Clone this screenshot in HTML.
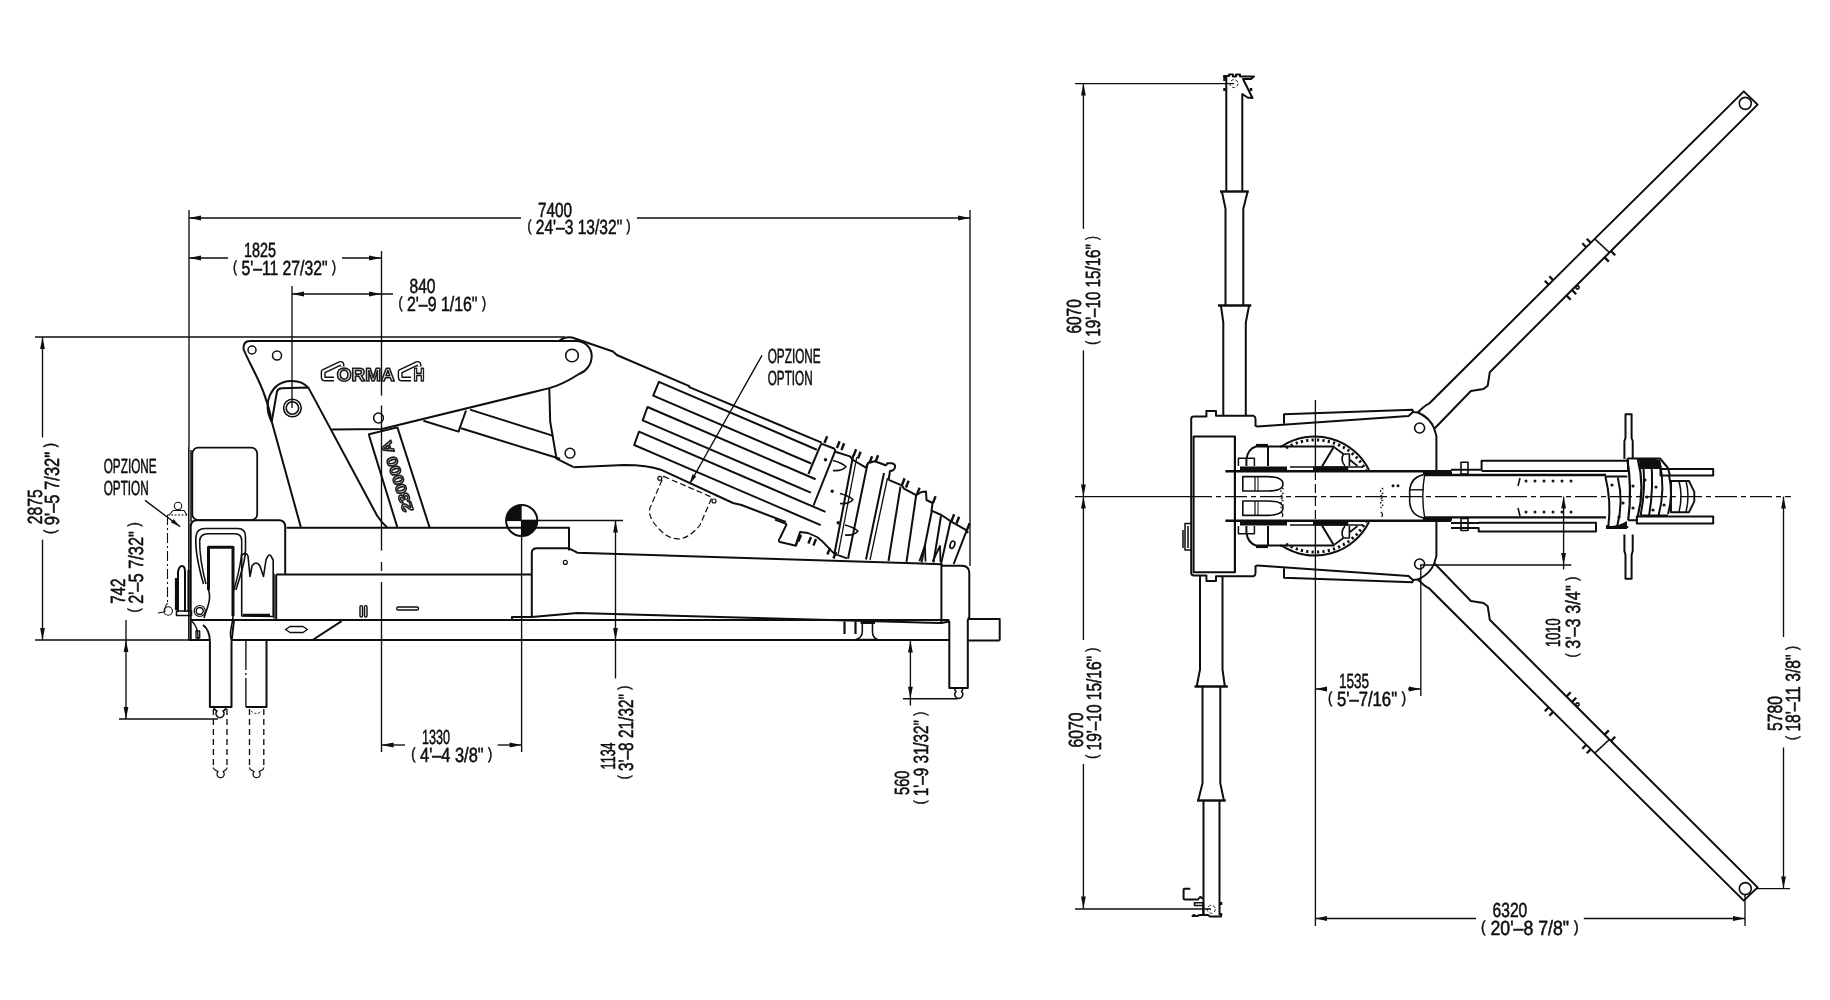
<!DOCTYPE html>
<html><head><meta charset="utf-8"><style>
html,body{margin:0;padding:0;background:#fff;}
svg{display:block;}
text{text-rendering:geometricPrecision;}
text{font-family:"Liberation Sans",sans-serif;fill:#0e0e0e;stroke:#0e0e0e;stroke-width:0.55;}
</style></head><body>
<svg width="1830" height="1000" viewBox="0 0 1830 1000">
<rect width="1830" height="1000" fill="#fff"/>
<g style="filter:grayscale(1)" stroke="#0e0e0e" fill="none" stroke-linecap="butt" stroke-linejoin="round">
<line x1="189" y1="218" x2="521" y2="218" stroke-width="1.35" />
<line x1="637" y1="218" x2="970" y2="218" stroke-width="1.35" />
<path d="M189,218 L201,215.6 L201,220.4 Z" fill="#0e0e0e" stroke="none"/>
<path d="M970,218 L958,220.4 L958,215.6 Z" fill="#0e0e0e" stroke="none"/>
<line x1="189" y1="210" x2="189" y2="447" stroke-width="1.35" />
<line x1="970" y1="210" x2="970" y2="566" stroke-width="1.35" />
<text x="538" y="216.7" textLength="34" lengthAdjust="spacingAndGlyphs" font-size="20.5" >7400</text>
<text x="527.5" y="234" textLength="103" lengthAdjust="spacingAndGlyphs" font-size="20.5" ><tspan font-size="15.8" dy="-3.3">(</tspan><tspan dy="3.3"> 24'–3 13/32&quot; </tspan><tspan font-size="15.8" dy="-3.3">)</tspan></text>
<line x1="189" y1="258" x2="228" y2="258" stroke-width="1.35" />
<line x1="342" y1="258" x2="381" y2="258" stroke-width="1.35" />
<path d="M189,258 L201,255.6 L201,260.4 Z" fill="#0e0e0e" stroke="none"/>
<path d="M381,258 L369,260.4 L369,255.6 Z" fill="#0e0e0e" stroke="none"/>
<text x="244" y="257" textLength="32" lengthAdjust="spacingAndGlyphs" font-size="20.5" >1825</text>
<text x="233" y="275" textLength="103" lengthAdjust="spacingAndGlyphs" font-size="20.5" ><tspan font-size="15.8" dy="-3.3">(</tspan><tspan dy="3.3"> 5'–11 27/32&quot; </tspan><tspan font-size="15.8" dy="-3.3">)</tspan></text>
<line x1="292" y1="294" x2="393" y2="294" stroke-width="1.35" />
<path d="M292,294 L304,291.6 L304,296.4 Z" fill="#0e0e0e" stroke="none"/>
<path d="M381,294 L369,296.4 L369,291.6 Z" fill="#0e0e0e" stroke="none"/>
<line x1="292" y1="286" x2="292" y2="408" stroke-width="1.35" />
<text x="409.5" y="292.5" textLength="26" lengthAdjust="spacingAndGlyphs" font-size="20.5" >840</text>
<text x="398.5" y="311" textLength="87.5" lengthAdjust="spacingAndGlyphs" font-size="20.5" ><tspan font-size="15.8" dy="-3.3">(</tspan><tspan dy="3.3"> 2'–9 1/16&quot; </tspan><tspan font-size="15.8" dy="-3.3">)</tspan></text>
<line x1="381.5" y1="251" x2="381.5" y2="395.6" stroke-width="1.35" />
<line x1="381.5" y1="405.5" x2="381.5" y2="550.6" stroke-width="1.35" />
<line x1="381.5" y1="562" x2="381.5" y2="571" stroke-width="1.35" />
<line x1="381.5" y1="582" x2="381.5" y2="752" stroke-width="1.35" />
<line x1="35" y1="337" x2="565" y2="337" stroke-width="1.35" />
<line x1="35" y1="640" x2="190" y2="640" stroke-width="1.35" />
<line x1="42.5" y1="337" x2="42.5" y2="437.5" stroke-width="1.35" />
<line x1="42.5" y1="539.7" x2="42.5" y2="640" stroke-width="1.35" />
<path d="M42.5,337 L44.9,349 L40.1,349 Z" fill="#0e0e0e" stroke="none"/>
<path d="M42.5,640 L40.1,628 L44.9,628 Z" fill="#0e0e0e" stroke="none"/>
<text x="41.7" y="524.3" textLength="35" lengthAdjust="spacingAndGlyphs" font-size="20.5" transform="rotate(-90 41.7 524.3)" >2875</text>
<text x="58.5" y="534" textLength="91" lengthAdjust="spacingAndGlyphs" font-size="20.5" transform="rotate(-90 58.5 534)" ><tspan font-size="15.8" dy="-3.3">(</tspan><tspan dy="3.3"> 9'–5 7/32&quot; </tspan><tspan font-size="15.8" dy="-3.3">)</tspan></text>
<line x1="126" y1="620" x2="126" y2="719" stroke-width="1.35" />
<path d="M126,640 L128.4,652 L123.6,652 Z" fill="#0e0e0e" stroke="none"/>
<path d="M126,719 L123.6,707 L128.4,707 Z" fill="#0e0e0e" stroke="none"/>
<line x1="119" y1="719" x2="218" y2="719" stroke-width="1.35" />
<text x="125.2" y="603.8" textLength="25.3" lengthAdjust="spacingAndGlyphs" font-size="20.5" transform="rotate(-90 125.2 603.8)" >742</text>
<text x="142.8" y="612.6" textLength="90.2" lengthAdjust="spacingAndGlyphs" font-size="20.5" transform="rotate(-90 142.8 612.6)" ><tspan font-size="15.8" dy="-3.3">(</tspan><tspan dy="3.3"> 2'–5 7/32&quot; </tspan><tspan font-size="15.8" dy="-3.3">)</tspan></text>
<line x1="381.6" y1="745" x2="405" y2="745" stroke-width="1.35" />
<line x1="497.7" y1="745" x2="521.6" y2="745" stroke-width="1.35" />
<path d="M381.6,745 L393.6,742.6 L393.6,747.4 Z" fill="#0e0e0e" stroke="none"/>
<path d="M521.6,745 L509.6,747.4 L509.6,742.6 Z" fill="#0e0e0e" stroke="none"/>
<line x1="521.6" y1="520" x2="521.6" y2="752" stroke-width="1.35" />
<text x="422" y="744.2" textLength="28" lengthAdjust="spacingAndGlyphs" font-size="20.5" >1330</text>
<text x="411.3" y="762.2" textLength="81" lengthAdjust="spacingAndGlyphs" font-size="20.5" ><tspan font-size="15.8" dy="-3.3">(</tspan><tspan dy="3.3"> 4'–4 3/8&quot; </tspan><tspan font-size="15.8" dy="-3.3">)</tspan></text>
<line x1="615.5" y1="520.5" x2="615.5" y2="678.5" stroke-width="1.35" />
<path d="M615.5,520.5 L617.9,532.5 L613.1,532.5 Z" fill="#0e0e0e" stroke="none"/>
<path d="M615.5,640 L613.1,628 L617.9,628 Z" fill="#0e0e0e" stroke="none"/>
<line x1="521.7" y1="520.5" x2="623" y2="520.5" stroke-width="1.35" />
<text x="614.6" y="769.4" textLength="27" lengthAdjust="spacingAndGlyphs" font-size="20.5" transform="rotate(-90 614.6 769.4)" >1134</text>
<text x="632.6" y="779.3" textLength="93.6" lengthAdjust="spacingAndGlyphs" font-size="20.5" transform="rotate(-90 632.6 779.3)" ><tspan font-size="15.8" dy="-3.3">(</tspan><tspan dy="3.3"> 3'–8 21/32&quot; </tspan><tspan font-size="15.8" dy="-3.3">)</tspan></text>
<line x1="910.4" y1="640.5" x2="910.4" y2="705.6" stroke-width="1.35" />
<path d="M910.4,640.5 L912.8,652.5 L908,652.5 Z" fill="#0e0e0e" stroke="none"/>
<path d="M910.4,698.7 L908,686.7 L912.8,686.7 Z" fill="#0e0e0e" stroke="none"/>
<line x1="903" y1="698.7" x2="957.7" y2="698.7" stroke-width="1.35" />
<text x="909.4" y="794.9" textLength="24.2" lengthAdjust="spacingAndGlyphs" font-size="20.5" transform="rotate(-90 909.4 794.9)" >560</text>
<text x="928.3" y="804.3" textLength="92.4" lengthAdjust="spacingAndGlyphs" font-size="20.5" transform="rotate(-90 928.3 804.3)" ><tspan font-size="15.8" dy="-3.3">(</tspan><tspan dy="3.3"> 1'–9 31/32&quot; </tspan><tspan font-size="15.8" dy="-3.3">)</tspan></text>
<text x="103.7" y="473" textLength="53" lengthAdjust="spacingAndGlyphs" font-size="20.5" >OPZIONE</text>
<text x="103.7" y="494.5" textLength="45" lengthAdjust="spacingAndGlyphs" font-size="20.5" >OPTION</text>
<line x1="145" y1="500.4" x2="180.2" y2="526.8" stroke-width="1.35" />
<path d="M180.2,526.8 L170.88,522.56 L173.52,519.04 Z" fill="#0e0e0e" stroke="none"/>
<text x="767.7" y="363.4" textLength="53" lengthAdjust="spacingAndGlyphs" font-size="20.5" >OPZIONE</text>
<text x="767.7" y="385.2" textLength="45" lengthAdjust="spacingAndGlyphs" font-size="20.5" >OPTION</text>
<line x1="762" y1="355.3" x2="689.5" y2="484.1" stroke-width="1.35" />
<path d="M689.5,484.1 L692.49,474.31 L696.32,476.46 Z" fill="#0e0e0e" stroke="none"/>
<path d="M250,341 L575,341 C584,340.5 591.7,347 591.7,356.1 C591.7,365 586,371.5 579,374 Q562,385 548.4,388.4 L382,429 L331.7,429.5" stroke-width="2.0" fill="none" />
<path d="M250,341 Q243,341 243.5,349 C250,366 266,388 271.7,421.5" stroke-width="2.0" fill="none" />
<circle cx="252" cy="350" r="4" stroke-width="1.5" fill="none" />
<circle cx="277" cy="355.5" r="4.5" stroke-width="1.5" fill="none" />
<circle cx="572" cy="355.5" r="6.3" stroke-width="1.6" fill="none" />
<circle cx="378.5" cy="418" r="4.9" stroke-width="1.5" fill="none" />
<circle cx="570" cy="453.2" r="4.9" stroke-width="1.5" fill="none" />
<path d="M271.7,421.5 C262,405 270,381 292,381 C300,381 305,384 308,387.6" stroke-width="2.0" fill="none" />
<circle cx="292.4" cy="408" r="8.8" stroke-width="1.6" fill="none" />
<circle cx="292.4" cy="408" r="6.2" stroke-width="1.6" fill="none" />
<path d="M300.8,527 L271.7,421.5 L277,391.5 Q278,388.5 282,388.3 L308.4,387.6 L377,515.5 Q381,522 387.2,527.5" stroke-width="2.0" fill="none" />
<path d="M397.4,527.5 L369.5,437 L369,434.2 L397.4,427.4 L429.6,527.5" stroke-width="2.0" fill="none" />
<text x="0" y="0" font-size="15" font-weight="bold" textLength="74" lengthAdjust="spacingAndGlyphs" transform="translate(413.5,510) rotate(-108)" style="fill:#fff;stroke:#1c1c1c;stroke-width:1.5">230000 A</text>
<path d="M423.4,420.8 L458.5,431.6 L466,410.5" stroke-width="2.0" fill="none" />
<path d="M470,409.6 L553.2,435.9" stroke-width="2.0" fill="none" />
<path d="M461,428.3 L560,458.8" stroke-width="2.0" fill="none" />
<path d="M549.3,388.4 L550.2,421.7 L556.5,458.6 L573.6,467.2" stroke-width="2.0" fill="none" />
<path d="M334,379 L325,379 Q323.2,379 323.2,377 L323.2,371.5 L340,363.6 Q342,362.8 342,365 L342,366.5" stroke-width="5.0" fill="none" />
<path d="M334,379 L325,379 Q323.2,379 323.2,377 L323.2,371.5 L340,363.6 Q342,362.8 342,365 L342,366.5" stroke-width="2.2" fill="none" stroke="#fff"/>
<path d="M411,379 L402,379 Q400.2,379 400.2,377 L400.2,371.5 L417,363.6 Q419,362.8 419,365 L419,366.5" stroke-width="5.0" fill="none" />
<path d="M411,379 L402,379 Q400.2,379 400.2,377 L400.2,371.5 L417,363.6 Q419,362.8 419,365 L419,366.5" stroke-width="2.2" fill="none" stroke="#fff"/>
<text x="336.8" y="381.2" font-size="18.5" font-weight="bold" textLength="58" lengthAdjust="spacingAndGlyphs" style="fill:#fff;stroke:#1c1c1c;stroke-width:1.6">ORMA</text>
<text x="413.6" y="381.2" font-size="18.5" font-weight="bold" textLength="11" lengthAdjust="spacingAndGlyphs" style="fill:#fff;stroke:#1c1c1c;stroke-width:1.6">H</text>
<path d="M559,341 Q565,336 572,337.5 L613,351.5 L616.8,355 L689.3,386.1 L689.3,387.1 L821.7,442.7" stroke-width="2.0" fill="none" />
<path d="M573.6,467.2 L624,464.9 Q648,465 660.8,469.7 L733,503 L741.5,505 L786,522" stroke-width="2.0" fill="none" />
<path d="M816.91,449.74 L658.9,381.8 L653.2,395.6 L811.21,463.54" stroke-width="2.0" fill="none" />
<path d="M815.62,479.29 L647.5,407 L642.7,420.3 L810.82,492.59" stroke-width="2.0" fill="none" />
<path d="M825.49,511.89 L639,431.7 L634.2,445 L820.69,525.19" stroke-width="2.0" fill="none" />
<path d="M663.6,476.4 L712,497.3 L700,525 Q680,550 660,530 Q645,515 651.3,505 Z" stroke-width="1.2" fill="none" stroke-dasharray="6 3"/>
<circle cx="659.8" cy="478.3" r="2" stroke-width="1.2" fill="none" />
<circle cx="714" cy="501" r="2" stroke-width="1.2" fill="none" />
<path d="M821.2,443.6 L834,448.5 L836,452 L850,456.4 L853,460 L866,467.6 L868,463 L874.8,461.2 L886.4,465.5" stroke-width="2.0" fill="none" />
<path d="M886.4,465.5 L887,463.3 L892,463.3 Q895.5,464 895,467.5 Q894,471 890,471 L888.6,479.8" stroke-width="2.0" fill="none" />
<path d="M888.6,479.8 L901.8,485.3 L904,488.6 L916.1,495.2 L921.6,492 L926,491.5 L926.5,500 L932.6,503 L931.5,510.6 L941.4,515 L951.3,521.6 L966.7,530.4 L968,533" stroke-width="2.0" fill="none" />
<line x1="824.5" y1="443" x2="827.1" y2="436.2" stroke-width="2.4" />
<line x1="837" y1="448" x2="839.6" y2="441.2" stroke-width="2.4" />
<line x1="841.5" y1="450" x2="844.1" y2="443.2" stroke-width="2.4" />
<line x1="853.5" y1="456" x2="856.1" y2="449.2" stroke-width="2.4" />
<line x1="858" y1="458.5" x2="860.6" y2="451.7" stroke-width="2.4" />
<line x1="869.5" y1="463" x2="872.1" y2="456.2" stroke-width="2.4" />
<line x1="875.5" y1="462" x2="878.1" y2="455.2" stroke-width="2.4" />
<line x1="902" y1="485" x2="904.6" y2="478.2" stroke-width="2.4" />
<line x1="906" y1="487.5" x2="908.6" y2="480.7" stroke-width="2.4" />
<line x1="917" y1="494.5" x2="919.6" y2="487.7" stroke-width="2.4" />
<line x1="933" y1="503" x2="935.6" y2="496.2" stroke-width="2.4" />
<line x1="951.5" y1="521" x2="954.1" y2="514.2" stroke-width="2.4" />
<line x1="956.5" y1="523.5" x2="959.1" y2="516.7" stroke-width="2.4" />
<line x1="967" y1="530" x2="969.6" y2="523.2" stroke-width="2.4" />
<path d="M821.2,443.6 L808.4,474" stroke-width="2.0" fill="none" />
<path d="M835.2,451 L813.5,505.5" stroke-width="2.0" fill="none" />
<path d="M853.2,455.2 L834.5,553.5" stroke-width="2.0" fill="none" />
<path d="M856.8,457 L838.2,553.8" stroke-width="1.3" fill="none" />
<path d="M867.5,464 L848,558.7" stroke-width="2.0" fill="none" />
<path d="M884,473 L866,559.5" stroke-width="2.0" fill="none" />
<path d="M887.5,478 L870,560" stroke-width="1.3" fill="none" />
<path d="M900.5,486.7 L888.5,561" stroke-width="2.0" fill="none" />
<path d="M916.2,495 L906.5,561.8" stroke-width="2.0" fill="none" />
<path d="M932,510 L921.5,562.5" stroke-width="2.0" fill="none" />
<path d="M941,516 L933.5,562.5" stroke-width="2.0" fill="none" />
<path d="M950.5,521.5 L941,564" stroke-width="2.0" fill="none" />
<path d="M966.7,530.4 L953.7,564" stroke-width="2.0" fill="none" />
<path d="M919.4,561.2 L924,548 L925,546 L925.5,561.5" stroke-width="1.8" fill="none" />
<path d="M932.6,561.5 L938,550 L940,546 L940.5,562" stroke-width="1.8" fill="none" />
<ellipse cx="952.4" cy="544.7" rx="2.2" ry="3.8" transform="rotate(20 952.4 544.7)" stroke-width="1.6" fill="none"/>
<path d="M833,460.5 Q841,462.5 846,466.5 Q842,471.5 833,470.5" stroke-width="1.6" fill="none" />
<path d="M840,493.5 Q848,495.5 853,499.5 Q849,504.5 840,503.5" stroke-width="1.6" fill="none" />
<path d="M845,525 Q853,527 858,531 Q854,536 845,535" stroke-width="1.6" fill="none" />
<circle cx="825.5" cy="459.7" r="0.9" stroke-width="1.6" fill="none" />
<circle cx="832.2" cy="491.3" r="0.9" stroke-width="1.6" fill="none" />
<circle cx="838.2" cy="522.7" r="0.9" stroke-width="1.6" fill="none" />
<path d="M786.7,524.1 L780,538 Q777.7,541 780,542 L796,545.7 L797.6,541 L800,534" stroke-width="2.0" fill="none" />
<path d="M775,519.6 L786.7,524.1" stroke-width="2.0" fill="none" />
<path d="M795.7,544.8 L800,532 L808,533 L817,537 L822,541 L834.4,553.8 L847,558.3" stroke-width="1.8" fill="none" />
<line x1="801" y1="535" x2="798.4" y2="541.5" stroke-width="2.4" />
<line x1="811" y1="537" x2="808.4" y2="543.5" stroke-width="2.4" />
<line x1="816" y1="539" x2="813.4" y2="545.5" stroke-width="2.4" />
<line x1="830" y1="548" x2="827.4" y2="554.5" stroke-width="2.4" />
<line x1="836" y1="552" x2="833.4" y2="558.5" stroke-width="2.4" />
<rect x="192.3" y="447.6" width="64.9" height="72.6" rx="6" stroke-width="1.8" fill="none" />
<line x1="191" y1="450" x2="191" y2="522" stroke-width="1.5" />
<path d="M190.7,640 L190.7,527 Q190.7,520.2 197,520.2 L279,520.2 Q285.2,520.2 285.2,527 L285.2,574" stroke-width="2.0" fill="none" />
<line x1="188.8" y1="447" x2="188.8" y2="640" stroke-width="1.5" />
<path d="M203.5,584 C198,565 195,548 196,536 Q197,528.5 205,528.5 L238,528.5 Q245.5,528.5 245.5,537 L245.5,550 C245,565 240,575 236,590" stroke-width="1.6" fill="none" />
<path d="M206,584 C201,565 199.5,550 199.7,541 Q200,533.7 208,533.7 L235,533.7 Q241.7,533.7 241.7,541 L241.7,552 C241,565 238,575 234,590" stroke-width="1.5" fill="none" />
<path d="M208.5,590 L208.5,547.2 L233,547.2 L233,616" stroke-width="3.0" fill="none" />
<path d="M208.5,590 C212,600 206,610 204,618 M233,616 C233,625 228,632 231.6,640" stroke-width="1.6" fill="none" />
<path d="M241.7,616 L241.7,555.5 Q245.5,551 248,556 L250,576.5 L252,566 Q256,560 260,566 L263.5,576.5 L266,560 Q269.5,551 272,558 L273.2,560 L273.2,616.5 Z" stroke-width="1.6" fill="none" />
<line x1="243" y1="615" x2="270" y2="615" stroke-width="2.5" />
<line x1="274" y1="573.5" x2="274" y2="618.5" stroke-width="1.5" />
<circle cx="178" cy="506" r="3.7" stroke-width="1.1" fill="none" />
<path d="M169,515 L173,510.5 L184,510.5 L187,515" stroke-width="1.1" fill="none" />
<line x1="167.5" y1="515" x2="187" y2="515" stroke-width="1.0" stroke-dasharray="2 1.5"/>
<line x1="167.5" y1="515" x2="167.5" y2="603" stroke-width="1.1" stroke-dasharray="10 3 2 3"/>
<path d="M167.5,603 Q164,608 165,612" stroke-width="1.1" fill="none" />
<circle cx="168.2" cy="611" r="4.2" stroke-width="1.1" fill="none" />
<line x1="158" y1="613" x2="164" y2="612" stroke-width="1.1" />
<path d="M178,612 L178,572 Q179,566 182,566 Q185,566 185,572 L185,612" stroke-width="2.0" fill="none" />
<path d="M176,578 L176,610 M188.5,570 L188.5,612" stroke-width="2.2" fill="none" />
<rect x="176.5" y="611" width="15" height="4.5" rx="0" stroke-width="1.6" fill="none" />
<circle cx="199.7" cy="611" r="3.5" stroke-width="1.4" fill="none" />
<circle cx="199.7" cy="611" r="5.5" stroke-width="1.2" fill="none" />
<rect x="196" y="631" width="3.7" height="7" rx="0" stroke-width="1.3" fill="none" />
<path d="M191,620 Q199,628 198,640" stroke-width="1.4" fill="none" />
<path d="M286.6,527.8 L569,527.8 L569,550.6" stroke-width="2.0" fill="none" />
<line x1="276.2" y1="574.5" x2="531.8" y2="574.5" stroke-width="2.0" />
<line x1="276.2" y1="574.5" x2="276.2" y2="620" stroke-width="2.0" />
<path d="M531.8,617 L531.8,553 Q531.8,548.3 537,548.3 L569,548.3 L577.3,552.7 L941.4,564.2 L941.4,623 L577.3,613 L531.8,617 L512,617 L512,620" stroke-width="2.0" fill="none" />
<path d="M941.4,564.2 L942.5,565.8 L962,565.8 Q969.3,566 969.3,573 L969.3,617 L967.8,620" stroke-width="2.0" fill="none" />
<circle cx="565.3" cy="562.4" r="2" stroke-width="1.2" fill="none" />
<rect x="360" y="605.6" width="2.5" height="11.4" rx="1.2" stroke-width="1.4" fill="none" />
<rect x="364.5" y="605.6" width="2.5" height="11.4" rx="1.2" stroke-width="1.4" fill="none" />
<rect x="396.7" y="607" width="21.8" height="3" rx="1.5" stroke-width="1.4" fill="none" />
<path d="M285.6,629.5 L290,626.5 L303,626.5 L307.4,629.5 L303,632.5 L290,632.5 Z" stroke-width="1.4" fill="none" />
<line x1="312.6" y1="640" x2="341.6" y2="621.2" stroke-width="2.0" />
<circle cx="521.7" cy="520.5" r="15.6" stroke-width="2.0" fill="none" />
<path d="M521.7,520.5 L521.7,504.9 A15.6,15.6 0 0 0 506.1,520.5 Z" stroke-width="0" fill="#0e0e0e" />
<path d="M521.7,520.5 L521.7,536.1 A15.6,15.6 0 0 0 537.3,520.5 Z" stroke-width="0" fill="#0e0e0e" />
<line x1="506.1" y1="520.5" x2="537.3" y2="520.5" stroke-width="1.2" />
<line x1="190" y1="620" x2="949.3" y2="620" stroke-width="2.0" />
<line x1="188.8" y1="640" x2="209.9" y2="640" stroke-width="2.0" />
<line x1="231.5" y1="640" x2="949.3" y2="640" stroke-width="2.0" />
<line x1="967.8" y1="640.5" x2="999.7" y2="640.5" stroke-width="2.0" />
<path d="M967.8,619 H999.7 V640.5" stroke-width="2.0" fill="none" />
<path d="M844.5,621.6 L844.5,634 M855.5,621.6 L855.5,634" stroke-width="2.2" fill="none" />
<path d="M862.3,622.5 V632 Q862,637.5 856,639.5 H877.6 Q872.5,637.5 872.5,632 V622.5" stroke-width="1.6" fill="none" />
<line x1="860.6" y1="622.8" x2="875" y2="622.8" stroke-width="2.4" />
<path d="M941.4,623 L949.3,621.6 L949.3,688 L967.8,688 L967.8,620" stroke-width="2.0" fill="none" />
<path d="M954.5,688 Q955,690.5 956,691.5 A4,4 0 1 0 961.5,691.5 Q962.5,690.5 963,688" stroke-width="1.6" fill="none" />
<path d="M203,625 Q209.9,630 209.9,642 L209.9,707 L231.5,707 L231.5,642 L234,620" stroke-width="2.0" fill="none" />
<path d="M214,707 Q214,710 217,711 A4,4 0 1 0 223,711 Q226,710 226,707" stroke-width="1.6" fill="none" />
<line x1="245.9" y1="640" x2="245.9" y2="707" stroke-width="1.35" stroke-dasharray="30 3 2 3"/>
<path d="M245.9,707 L266.5,707 L266.5,640" stroke-width="2.0" fill="none" />
<path d="M251,711 Q256.5,716 262,711" stroke-width="1.0" fill="none" stroke-dasharray="2 2"/>
<line x1="213.4" y1="709" x2="213.4" y2="767.6" stroke-width="1.35" stroke-dasharray="6 4"/>
<line x1="227" y1="709" x2="227" y2="767.6" stroke-width="1.35" stroke-dasharray="6 4"/>
<path d="M213.4,767.6 Q213.4,770 218.1,771.5 A3.6,3.6 0 1 0 223.1,771.5 Q227,770 227,767.6" stroke-width="1.2" fill="none" />
<line x1="249.5" y1="709" x2="249.5" y2="767.6" stroke-width="1.35" stroke-dasharray="6 4"/>
<line x1="263.8" y1="709" x2="263.8" y2="767.6" stroke-width="1.35" stroke-dasharray="6 4"/>
<path d="M249.5,767.6 Q249.5,770 254.10000000000002,771.5 A3.6,3.6 0 1 0 259.1,771.5 Q263.8,770 263.8,767.6" stroke-width="1.2" fill="none" />
<line x1="1083.4" y1="83.6" x2="1083.4" y2="228.8" stroke-width="1.35" />
<line x1="1083.4" y1="350.4" x2="1083.4" y2="496.6" stroke-width="1.35" />
<path d="M1083.4,83.6 L1085.8,95.6 L1081,95.6 Z" fill="#0e0e0e" stroke="none"/>
<path d="M1083.4,496.6 L1081,484.6 L1085.8,484.6 Z" fill="#0e0e0e" stroke="none"/>
<line x1="1075" y1="83.6" x2="1234" y2="83.6" stroke-width="1.35" />
<text x="1081.4" y="333.6" textLength="34.4" lengthAdjust="spacingAndGlyphs" font-size="20.5" transform="rotate(-90 1081.4 333.6)" >6070</text>
<text x="1099.8" y="344.8" textLength="108.8" lengthAdjust="spacingAndGlyphs" font-size="20.5" transform="rotate(-90 1099.8 344.8)" ><tspan font-size="15.8" dy="-3.3">(</tspan><tspan dy="3.3"> 19'–10 15/16&quot; </tspan><tspan font-size="15.8" dy="-3.3">)</tspan></text>
<line x1="1083.4" y1="496.6" x2="1083.4" y2="640" stroke-width="1.35" />
<line x1="1083.4" y1="764" x2="1083.4" y2="908.6" stroke-width="1.35" />
<path d="M1083.4,496.6 L1085.8,508.6 L1081,508.6 Z" fill="#0e0e0e" stroke="none"/>
<path d="M1083.4,908.6 L1081,896.6 L1085.8,896.6 Z" fill="#0e0e0e" stroke="none"/>
<line x1="1075" y1="909" x2="1211" y2="909" stroke-width="1.35" />
<text x="1083.4" y="747.6" textLength="35" lengthAdjust="spacingAndGlyphs" font-size="20.5" transform="rotate(-90 1083.4 747.6)" >6070</text>
<text x="1100.7" y="758.7" textLength="111" lengthAdjust="spacingAndGlyphs" font-size="20.5" transform="rotate(-90 1100.7 758.7)" ><tspan font-size="15.8" dy="-3.3">(</tspan><tspan dy="3.3"> 19'–10 15/16&quot; </tspan><tspan font-size="15.8" dy="-3.3">)</tspan></text>
<line x1="1075" y1="496.6" x2="1190" y2="496.6" stroke-width="1.35" />
<line x1="1190" y1="496.6" x2="1791" y2="496.6" stroke-width="1.2" stroke-dasharray="22 4 5 4"/>
<line x1="1315.4" y1="400" x2="1315.4" y2="471" stroke-width="1.35" />
<line x1="1315.4" y1="471" x2="1315.4" y2="522" stroke-width="1.2" stroke-dasharray="9 4"/>
<line x1="1315.4" y1="522" x2="1315.4" y2="926" stroke-width="1.35" />
<line x1="1315" y1="689" x2="1327" y2="689" stroke-width="1.35" />
<line x1="1408" y1="689" x2="1421" y2="689" stroke-width="1.35" />
<path d="M1315,689 L1327,686.6 L1327,691.4 Z" fill="#0e0e0e" stroke="none"/>
<path d="M1420.8,689 L1408.8,691.4 L1408.8,686.6 Z" fill="#0e0e0e" stroke="none"/>
<line x1="1420.8" y1="565" x2="1420.8" y2="696" stroke-width="1.35" />
<text x="1339" y="688.4" textLength="30" lengthAdjust="spacingAndGlyphs" font-size="20.5" >1535</text>
<text x="1328" y="706" textLength="78" lengthAdjust="spacingAndGlyphs" font-size="20.5" ><tspan font-size="15.8" dy="-3.3">(</tspan><tspan dy="3.3"> 5'–7/16&quot; </tspan><tspan font-size="15.8" dy="-3.3">)</tspan></text>
<line x1="1563.6" y1="496.6" x2="1563.6" y2="569.4" stroke-width="1.35" />
<path d="M1563.6,496.6 L1566,508.6 L1561.2,508.6 Z" fill="#0e0e0e" stroke="none"/>
<path d="M1563.6,565 L1561.2,553 L1566,553 Z" fill="#0e0e0e" stroke="none"/>
<line x1="1420" y1="565" x2="1571.3" y2="565" stroke-width="1.35" />
<text x="1560.3" y="647" textLength="28.7" lengthAdjust="spacingAndGlyphs" font-size="20.5" transform="rotate(-90 1560.3 647)" >1010</text>
<text x="1580.1" y="657.4" textLength="80.9" lengthAdjust="spacingAndGlyphs" font-size="20.5" transform="rotate(-90 1580.1 657.4)" ><tspan font-size="15.8" dy="-3.3">(</tspan><tspan dy="3.3"> 3'–3 3/4&quot; </tspan><tspan font-size="15.8" dy="-3.3">)</tspan></text>
<line x1="1315" y1="918.5" x2="1476" y2="918.5" stroke-width="1.35" />
<line x1="1583.8" y1="918.5" x2="1745" y2="918.5" stroke-width="1.35" />
<path d="M1315,918.5 L1327,916.1 L1327,920.9 Z" fill="#0e0e0e" stroke="none"/>
<path d="M1745,918.5 L1733,920.9 L1733,916.1 Z" fill="#0e0e0e" stroke="none"/>
<line x1="1745" y1="895" x2="1745" y2="926" stroke-width="1.35" />
<text x="1492.6" y="917.2" textLength="34.7" lengthAdjust="spacingAndGlyphs" font-size="20.5" >6320</text>
<text x="1481" y="935" textLength="97.6" lengthAdjust="spacingAndGlyphs" font-size="20.5" ><tspan font-size="15.8" dy="-3.3">(</tspan><tspan dy="3.3"> 20'–8 7/8&quot; </tspan><tspan font-size="15.8" dy="-3.3">)</tspan></text>
<line x1="1783.5" y1="496.6" x2="1783.5" y2="637" stroke-width="1.35" />
<line x1="1783.5" y1="747.5" x2="1783.5" y2="888.6" stroke-width="1.35" />
<path d="M1783.5,496.6 L1785.9,508.6 L1781.1,508.6 Z" fill="#0e0e0e" stroke="none"/>
<path d="M1783.5,888.6 L1781.1,876.6 L1785.9,876.6 Z" fill="#0e0e0e" stroke="none"/>
<line x1="1757" y1="888.6" x2="1790" y2="888.6" stroke-width="1.35" />
<text x="1782" y="731" textLength="35" lengthAdjust="spacingAndGlyphs" font-size="20.5" transform="rotate(-90 1782 731)" >5780</text>
<text x="1800" y="740" textLength="94" lengthAdjust="spacingAndGlyphs" font-size="20.5" transform="rotate(-90 1800 740)" ><tspan font-size="15.8" dy="-3.3">(</tspan><tspan dy="3.3"> 18'–11 3/8&quot; </tspan><tspan font-size="15.8" dy="-3.3">)</tspan></text>
<path d="M1226.3,191 V77 H1224 V76 H1229 V74.5 H1233 V76.5 H1236 V74.5 H1240 V76.5 H1254 L1251,79 H1243 L1252.5,98 L1247.5,97.5 L1242.3,94 V191" stroke-width="2.0" fill="none" />
<line x1="1224.5" y1="78" x2="1224.5" y2="81" stroke-width="2.5" />
<line x1="1224.5" y1="88" x2="1224.5" y2="91" stroke-width="2.5" />
<line x1="1251" y1="88" x2="1251" y2="91" stroke-width="2.5" />
<circle cx="1234" cy="83.6" r="4" stroke-width="0.9" fill="none" stroke-dasharray="3 2"/>
<line x1="1220" y1="191.5" x2="1248.8" y2="191.5" stroke-width="2.4" />
<path d="M1222,192 L1225.5,208.8 V305 M1247.5,192 L1243.3,208.8 V305" stroke-width="2.0" fill="none" />
<line x1="1218" y1="305.5" x2="1251.3" y2="305.5" stroke-width="2.4" />
<path d="M1221,306 L1223.3,322.5 V416 M1249,306 L1245.8,322.5 V416" stroke-width="2.0" fill="none" />
<g transform="rotate(180 1222.9 496)">
<path d="M1242.3,191 V77 M1226.3,191 V77" stroke-width="2.0" fill="none" />
<line x1="1220" y1="191.5" x2="1248.8" y2="191.5" stroke-width="2.4" />
<path d="M1222,192 L1225.5,208.8 V305 M1247.5,192 L1243.3,208.8 V305" stroke-width="2.0" fill="none" />
<line x1="1218" y1="305.5" x2="1251.3" y2="305.5" stroke-width="2.4" />
<path d="M1221,306 L1223.3,322.5 V416 M1249,306 L1245.8,322.5 V416" stroke-width="2.0" fill="none" />
</g>
<path d="M1190.3,888.7 H1184.5 Q1183.6,888.7 1183.6,890 V898.5 Q1183.6,899.5 1185,899.5 H1198 L1200,897 L1203.25,898.5" stroke-width="2.0" fill="none" />
<line x1="1203.25" y1="903" x2="1203.25" y2="916" stroke-width="2.0" />
<path d="M1191.7,916 H1197 L1200,915 H1208 L1210,916.5 H1221.8" stroke-width="2.0" fill="none" />
<rect x="1194.5" y="902.7" width="8.5" height="2.8" rx="0" stroke-width="1.6" fill="none" />
<line x1="1221" y1="902" x2="1221" y2="905" stroke-width="2.5" />
<line x1="1221" y1="913" x2="1221" y2="916" stroke-width="2.5" />
<line x1="1194" y1="914" x2="1194" y2="916" stroke-width="2.5" />
<circle cx="1211.3" cy="909.3" r="4" stroke-width="0.9" fill="none" stroke-dasharray="3 2"/>
<path d="M1191.2,496 V419 Q1191.2,416.6 1194,416.6 H1206.4 V411 H1216 V415.8 H1253.6 Q1255.5,416.6 1255.5,419 V425.8 L1257.6,426.6 L1408.5,416 L1413,412" stroke-width="2.0" fill="none" />
<path d="M1284,423.8 V414.2 L1412.5,409.8 L1413,412 L1418,412.5" stroke-width="2.0" fill="none" />
<path d="M1418,412.5 Q1430,418 1434,428 L1436.4,436 V471" stroke-width="2.0" fill="none" />
<circle cx="1419.6" cy="428" r="5" stroke-width="1.6" fill="none" />
<path d="M1418,412.5 Q1424,406 1429,403.7 L1594.7,238.9 L1743.8,91.4 L1757.6,104.6 L1609.4,252.5 L1489.8,372.2 L1487.7,385.8 L1483.5,389 L1470.9,391 L1434,429" stroke-width="2.0" fill="none" />
<line x1="1594.7" y1="238.9" x2="1609.4" y2="252.5" stroke-width="1.6" />
<circle cx="1745.3" cy="103.4" r="6" stroke-width="1.6" fill="none" />
<line x1="1549" y1="285" x2="1544.8" y2="280.8" stroke-width="2.3" />
<line x1="1553.5" y1="280.5" x2="1549.3" y2="276.3" stroke-width="2.3" />
<line x1="1586.5" y1="247.5" x2="1582.3" y2="243.3" stroke-width="2.3" />
<line x1="1591" y1="243" x2="1586.8" y2="238.8" stroke-width="2.3" />
<line x1="1604.6" y1="257.4" x2="1608.8" y2="261.6" stroke-width="2.3" />
<line x1="1611" y1="251" x2="1615.2" y2="255.2" stroke-width="2.3" />
<line x1="1566.5" y1="295.5" x2="1570.7" y2="299.7" stroke-width="2.3" />
<line x1="1572" y1="290" x2="1576.2" y2="294.2" stroke-width="2.3" />
<circle cx="1577.5" cy="287.5" r="1.6" stroke-width="1.6" fill="none" />
<path d="M1280,446.6 Q1281.5,446.4 1282.5,445.8 A60.5,60.5 0 0 1 1369,470" stroke-width="2.0" fill="none" />
<path d="M1286,448 A57.3,57.3 0 0 1 1366,470.5" stroke-width="3.0" fill="none" stroke-dasharray="2.2 3.2"/>
<path d="M1268,466 V446.5 H1334 L1322,466.5" stroke-width="2.0" fill="none" />
<path d="M1334.6,447.5 L1343.4,454 H1349.4 V466 M1343.4,454 Q1340,460 1345,466 M1349.4,459.5 L1357.6,466" stroke-width="1.6" fill="none" />
<path d="M1246.4,466 V459 Q1248,449 1256,446.5 H1268" stroke-width="2.0" fill="none" />
<path d="M1238.4,466 V458.2 H1254.4 V466" stroke-width="1.5" fill="none" />
<line x1="1256" y1="445" x2="1268" y2="445" stroke-width="2.2" />
<line x1="1240" y1="468.5" x2="1287" y2="468.5" stroke-width="4" />
<line x1="1313" y1="468.8" x2="1348.3" y2="468.8" stroke-width="4.5" />
<line x1="1423" y1="473" x2="1452" y2="473" stroke-width="3.5" />
<line x1="1290" y1="467" x2="1363" y2="467" stroke-width="1.4" />
<line x1="1225.4" y1="471.2" x2="1451" y2="471.2" stroke-width="2.6" />
<path d="M1242.8,491 V476.6 H1268 Q1283,477 1283,484 Q1283,491 1268,491 Z" stroke-width="1.6" fill="none" />
<line x1="1255" y1="477" x2="1255" y2="491" stroke-width="1.2" />
<line x1="1258" y1="477" x2="1258" y2="491" stroke-width="1.0" />
<g transform="matrix(1 0 0 -1 0 992)">
<path d="M1191.2,496 V419 Q1191.2,416.6 1194,416.6 H1206.4 V411 H1216 V415.8 H1253.6 Q1255.5,416.6 1255.5,419 V425.8 L1257.6,426.6 L1408.5,416 L1413,412" stroke-width="2.0" fill="none" />
<path d="M1284,423.8 V414.2 L1412.5,409.8 L1413,412 L1418,412.5" stroke-width="2.0" fill="none" />
<path d="M1418,412.5 Q1430,418 1434,428 L1436.4,436 V471" stroke-width="2.0" fill="none" />
<circle cx="1419.6" cy="428" r="5" stroke-width="1.6" fill="none" />
<path d="M1418,412.5 Q1424,406 1429,403.7 L1594.7,238.9 L1743.8,91.4 L1757.6,104.6 L1609.4,252.5 L1489.8,372.2 L1487.7,385.8 L1483.5,389 L1470.9,391 L1434,429" stroke-width="2.0" fill="none" />
<line x1="1594.7" y1="238.9" x2="1609.4" y2="252.5" stroke-width="1.6" />
<circle cx="1745.3" cy="103.4" r="6" stroke-width="1.6" fill="none" />
<line x1="1549" y1="285" x2="1544.8" y2="280.8" stroke-width="2.3" />
<line x1="1553.5" y1="280.5" x2="1549.3" y2="276.3" stroke-width="2.3" />
<line x1="1586.5" y1="247.5" x2="1582.3" y2="243.3" stroke-width="2.3" />
<line x1="1591" y1="243" x2="1586.8" y2="238.8" stroke-width="2.3" />
<line x1="1604.6" y1="257.4" x2="1608.8" y2="261.6" stroke-width="2.3" />
<line x1="1611" y1="251" x2="1615.2" y2="255.2" stroke-width="2.3" />
<line x1="1566.5" y1="295.5" x2="1570.7" y2="299.7" stroke-width="2.3" />
<line x1="1572" y1="290" x2="1576.2" y2="294.2" stroke-width="2.3" />
<circle cx="1577.5" cy="287.5" r="1.6" stroke-width="1.6" fill="none" />
<path d="M1280,446.6 Q1281.5,446.4 1282.5,445.8 A60.5,60.5 0 0 1 1369,470" stroke-width="2.0" fill="none" />
<path d="M1286,448 A57.3,57.3 0 0 1 1366,470.5" stroke-width="3.0" fill="none" stroke-dasharray="2.2 3.2"/>
<path d="M1268,466 V446.5 H1334 L1322,466.5" stroke-width="2.0" fill="none" />
<path d="M1334.6,447.5 L1343.4,454 H1349.4 V466 M1343.4,454 Q1340,460 1345,466 M1349.4,459.5 L1357.6,466" stroke-width="1.6" fill="none" />
<path d="M1246.4,466 V459 Q1248,449 1256,446.5 H1268" stroke-width="2.0" fill="none" />
<path d="M1238.4,466 V458.2 H1254.4 V466" stroke-width="1.5" fill="none" />
<line x1="1256" y1="445" x2="1268" y2="445" stroke-width="2.2" />
<line x1="1240" y1="468.5" x2="1287" y2="468.5" stroke-width="4" />
<line x1="1313" y1="468.8" x2="1348.3" y2="468.8" stroke-width="4.5" />
<line x1="1423" y1="473" x2="1452" y2="473" stroke-width="3.5" />
<line x1="1290" y1="467" x2="1363" y2="467" stroke-width="1.4" />
<line x1="1225.4" y1="471.2" x2="1451" y2="471.2" stroke-width="2.6" />
<path d="M1242.8,491 V476.6 H1268 Q1283,477 1283,484 Q1283,491 1268,491 Z" stroke-width="1.6" fill="none" />
<line x1="1255" y1="477" x2="1255" y2="491" stroke-width="1.2" />
<line x1="1258" y1="477" x2="1258" y2="491" stroke-width="1.0" />
</g>
<rect x="1193.6" y="436.6" width="41.4" height="135.7" rx="0" stroke-width="2.0" fill="none" />
<line x1="1234.8" y1="437" x2="1234.8" y2="572" stroke-width="2.0" />
<path d="M1192,523.6 H1185 V550 H1192 M1183,530 V548 M1188,526 V548" stroke-width="1.5" fill="none" />
<line x1="1424" y1="475" x2="1606" y2="475" stroke-width="2.4" />
<line x1="1424" y1="517.4" x2="1606" y2="517.4" stroke-width="2.4" />
<path d="M1423.6,474.6 Q1408,478 1409.8,496.2 Q1408,515 1423.6,517.9" stroke-width="1.6" fill="none" />
<path d="M1424.6,475 Q1421,496 1424.6,517.4" stroke-width="1.4" fill="none" />
<line x1="1409.8" y1="489.8" x2="1423.6" y2="489.8" stroke-width="1.4" />
<path d="M1451,469.7 H1481.6 V460.8 H1628 V471 H1481.6" stroke-width="2.0" fill="none" />
<rect x="1461" y="462.3" width="7" height="11.7" rx="0" stroke-width="1.6" fill="none" />
<path d="M1451,523 H1478.7 V522.8 H1596 V531.6 H1478.7 V528 H1451" stroke-width="2.0" fill="none" />
<rect x="1461" y="518.5" width="7" height="12" rx="0" stroke-width="1.6" fill="none" />
<path d="M1520,478 L1518,486 M1520,516 L1518,508" stroke-width="1.6" fill="none" />
<circle cx="1526" cy="481" r="0.9" stroke-width="1.2" fill="none" />
<circle cx="1526" cy="512" r="0.9" stroke-width="1.2" fill="none" />
<circle cx="1535" cy="481" r="0.9" stroke-width="1.2" fill="none" />
<circle cx="1535" cy="512" r="0.9" stroke-width="1.2" fill="none" />
<circle cx="1544" cy="481" r="0.9" stroke-width="1.2" fill="none" />
<circle cx="1544" cy="512" r="0.9" stroke-width="1.2" fill="none" />
<circle cx="1553" cy="481" r="0.9" stroke-width="1.2" fill="none" />
<circle cx="1553" cy="512" r="0.9" stroke-width="1.2" fill="none" />
<circle cx="1562" cy="481" r="0.9" stroke-width="1.2" fill="none" />
<circle cx="1562" cy="512" r="0.9" stroke-width="1.2" fill="none" />
<circle cx="1571" cy="481" r="0.9" stroke-width="1.2" fill="none" />
<circle cx="1571" cy="512" r="0.9" stroke-width="1.2" fill="none" />
<path d="M1605.4,476.6 Q1611.55,501.8 1608.3,527" stroke-width="2.0" fill="none" />
<path d="M1617.8,477.5 Q1623.8,502.25 1617,527" stroke-width="2.0" fill="none" />
<path d="M1627.3,458.5 Q1632.25,489.4 1628.2,520.3" stroke-width="2.2" fill="none" />
<path d="M1637.7,458.5 Q1645.3,487.5 1637.7,516.5" stroke-width="2.2" fill="none" />
<path d="M1642.5,459 Q1646.45,487.25 1640.6,515.5" stroke-width="2.0" fill="none" />
<path d="M1651,459 Q1653.95,487.25 1649.1,515.5" stroke-width="2.0" fill="none" />
<path d="M1659.6,462 Q1665.7,488.75 1658.6,515.5" stroke-width="2.0" fill="none" />
<path d="M1669,475 Q1673.45,494.5 1668.1,514" stroke-width="2.0" fill="none" />
<path d="M1605.4,476.6 H1627.3 M1608.3,527 H1628.2" stroke-width="2.0" fill="none" />
<path d="M1627.3,458.5 H1660 L1668,468 L1670,476 M1628.2,520.3 H1638 M1640.6,515.5 H1668" stroke-width="2.0" fill="none" />
<path d="M1639,459 Q1650,457 1660,460 L1662,469 L1640,469 Z" stroke-width="0" fill="#0e0e0e" />
<path d="M1606,525 Q1615,528 1627,521 L1627,529 L1606,529 Z" stroke-width="0" fill="#0e0e0e" />
<circle cx="1612" cy="485" r="0.9" stroke-width="1.4" fill="none" />
<circle cx="1623" cy="503" r="0.9" stroke-width="1.4" fill="none" />
<circle cx="1633" cy="486" r="0.9" stroke-width="1.4" fill="none" />
<circle cx="1633" cy="508" r="0.9" stroke-width="1.4" fill="none" />
<circle cx="1645" cy="480" r="0.9" stroke-width="1.4" fill="none" />
<circle cx="1647" cy="497" r="0.9" stroke-width="1.4" fill="none" />
<circle cx="1656" cy="487" r="0.9" stroke-width="1.4" fill="none" />
<circle cx="1664" cy="505" r="0.9" stroke-width="1.4" fill="none" />
<circle cx="1653" cy="510" r="0.9" stroke-width="1.4" fill="none" />
<circle cx="1619" cy="517" r="0.9" stroke-width="1.4" fill="none" />
<rect x="1660.5" y="469" width="52.7" height="6.6" rx="0" stroke-width="2.0" fill="none" />
<rect x="1636.8" y="516.5" width="76.4" height="7.1" rx="0" stroke-width="2.0" fill="none" />
<path d="M1671,481 H1689 L1694.3,491.8 V501.3 L1689,512.2 H1671 Z" stroke-width="1.9" fill="none" />
<path d="M1679,481 Q1683,496 1679,512 M1686,481 Q1690,496 1686,512" stroke-width="1.5" fill="none" />
<path d="M1624.4,459 V441 L1625.5,438 V414.2 H1631.6 V438 L1632.7,441 V459" stroke-width="2.0" fill="none" />
<path d="M1624.4,534.5 V551 L1625.5,555 V578.8 H1631.6 V555 L1632.7,551 V534.5" stroke-width="2.0" fill="none" />
<path d="M1282,488 Q1284.2,489 1282,490 Q1279.8,491 1282,492 Q1284.2,493 1282,494 Q1279.8,495 1282,496 Q1284.2,497 1282,498 Q1279.8,499 1282,500 Q1284.2,501 1282,502 Q1279.8,503 1282,504 Q1284.2,505 1282,506 Q1279.8,507 1282,508" stroke-width="1.3" fill="none" stroke-dasharray="2 1.5"/>
<path d="M1281,512 Q1284,514 1282,517" stroke-width="1.3" fill="none" />
<path d="M1381.7,488 Q1383.9,489 1381.7,490 Q1379.5,491 1381.7,492 Q1383.9,493 1381.7,494 Q1379.5,495 1381.7,496 Q1383.9,497 1381.7,498 Q1379.5,499 1381.7,500 Q1383.9,501 1381.7,502 Q1379.5,503 1381.7,504 Q1383.9,505 1381.7,506 Q1379.5,507 1381.7,508" stroke-width="1.3" fill="none" stroke-dasharray="2 1.5"/>
<path d="M1380.7,512 Q1383.7,514 1381.7,517" stroke-width="1.3" fill="none" />
<circle cx="1393" cy="485.7" r="0.8" stroke-width="1.4" fill="none" />
<circle cx="1398" cy="485.7" r="0.8" stroke-width="1.4" fill="none" />
</g>
</svg>
</body></html>
